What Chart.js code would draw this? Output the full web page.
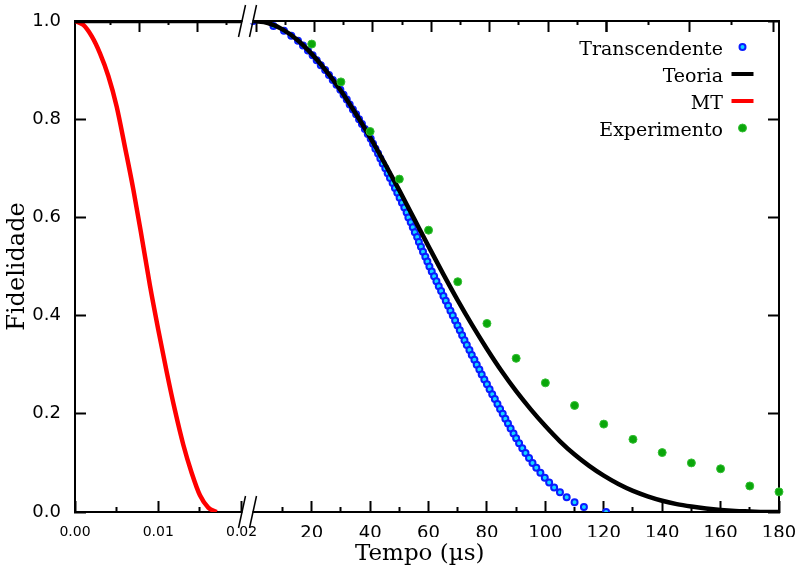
<!DOCTYPE html>
<html>
<head>
<meta charset="utf-8">
<script src="https://cdn.jsdelivr.net/npm/chart.js@4.4.1/dist/chart.umd.min.js"></script>
<style>
  html, body { margin: 0; padding: 0; background: #fff; }
  #wrap { position: relative; width: 803px; height: 571px; }
</style>
</head>
<body>
<div id="wrap"><canvas id="chart"></canvas></div>
<script>
// short time segment (left of the axis break), µs
const mtTime = [0, 0.001, 0.002, 0.003, 0.004, 0.005, 0.006, 0.007, 0.008, 0.009,
  0.010, 0.011, 0.012, 0.013, 0.014, 0.015, 0.016, 0.017]
const mtFid = [1.000, 0.992, 0.969, 0.934, 0.888, 0.826, 0.743, 0.657, 0.561, 0.461,
  0.371, 0.286, 0.207, 0.137, 0.080, 0.034, 0.009, 0.000]
const teoriaShortTime = [0, 0.02]
const teoriaShortFid = [1, 1]

// long time segment (right of the break), µs
const teoriaTime = [0, 5, 10, 15, 20, 25, 30, 35, 40, 45, 50, 55, 60, 65, 70, 75, 80, 85, 90,
  95, 100, 105, 110, 115, 120, 125, 130, 135, 140, 145, 150, 155, 160, 165, 170, 175, 180]
const teoriaFid = [1.000, 0.996, 0.983, 0.962, 0.933, 0.898, 0.858, 0.812, 0.763, 0.710,
  0.655, 0.598, 0.541, 0.485, 0.431, 0.380, 0.332, 0.287, 0.246, 0.209, 0.175, 0.144,
  0.117, 0.094, 0.074, 0.057, 0.043, 0.032, 0.023, 0.016, 0.011, 0.007, 0.004, 0.002,
  0.001, 0.000, 0.000]

const transFid = [1.00, 0.99, 0.98, 0.97, 0.96, 0.95, 0.94, 0.93, 0.92, 0.91,
  0.90, 0.89, 0.88, 0.87, 0.86, 0.85, 0.84, 0.83, 0.82, 0.81,
  0.80, 0.79, 0.78, 0.77, 0.76, 0.75, 0.74, 0.73, 0.72, 0.71,
  0.70, 0.69, 0.68, 0.67, 0.66, 0.65, 0.64, 0.63, 0.62, 0.61,
  0.60, 0.59, 0.58, 0.57, 0.56, 0.55, 0.54, 0.53, 0.52, 0.51,
  0.50, 0.49, 0.48, 0.47, 0.46, 0.45, 0.44, 0.43, 0.42, 0.41,
  0.40, 0.39, 0.38, 0.37, 0.36, 0.35, 0.34, 0.33, 0.32, 0.31,
  0.30, 0.29, 0.28, 0.27, 0.26, 0.25, 0.24, 0.23, 0.22, 0.21,
  0.20, 0.19, 0.18, 0.17, 0.16, 0.15, 0.14, 0.13, 0.12, 0.11,
  0.10, 0.09, 0.08, 0.07, 0.06, 0.05, 0.04, 0.03, 0.02, 0.01, 0.00]
const transTime = [0.0, 6.9, 10.5, 13.0, 15.3, 17.0, 18.7, 20.3, 21.7, 23.1,
  24.6, 25.9, 27.2, 28.5, 29.8, 30.9, 32.0, 33.0, 34.1, 35.2,
  36.2, 37.2, 38.2, 39.2, 40.2, 41.0, 41.8, 42.7, 43.5, 44.3,
  45.2, 46.0, 46.8, 47.7, 48.5, 49.3, 50.1, 50.9, 51.7, 52.5,
  53.1, 53.9, 54.6, 55.3, 56.1, 56.7, 57.4, 58.1, 58.9, 59.6,
  60.3, 61.1, 61.9, 62.7, 63.5, 64.3, 65.1, 65.9, 66.7, 67.5,
  68.3, 69.1, 69.9, 70.7, 71.5, 72.3, 73.1, 74.0, 74.8, 75.7,
  76.5, 77.4, 78.2, 79.1, 80.0, 80.9, 81.8, 82.7, 83.6, 84.5,
  85.4, 86.3, 87.2, 88.1, 89.1, 90.0, 91.0, 92.1, 93.2, 94.4,
  95.6, 96.9, 98.3, 99.8, 101.3, 103.0, 105.0, 107.3, 110.0, 113.2, 120.8]

const expTime = [20, 30, 40, 50, 60, 70, 80, 90, 100, 110, 120, 130, 140, 150, 160, 170, 180]
const expFid = [0.953, 0.876, 0.775, 0.678, 0.574, 0.469, 0.384, 0.313, 0.263, 0.217,
  0.179, 0.148, 0.121, 0.100, 0.088, 0.053, 0.041]

// tick labels
const shortTicks = [0, 0.01, 0.02]
const shortTickLabels = ['0.00', '0.01', '0.02']
const longTicks = [20, 40, 60, 80, 100, 120, 140, 160, 180]
const fidTicks = [0, 0.2, 0.4, 0.6, 0.8, 1.0]

const pts = (xs, ys) => xs.map((x, i) => ({x: x, y: ys[i]}))

Chart.defaults.font.family = 'DejaVu Sans'
Chart.defaults.color = '#000'

const isMajorShort = v => shortTicks.some(t => Math.abs(t - v) < 1e-9)
const isMajorLong = v => longTicks.includes(Math.round(v))

// inward tick marks: bottom ticks run from the axis inward, top ticks from inside to the axis
const tickGrid = (major, top) => ({
  drawOnChartArea: false,
  tickLength: -11,
  tickWidth: 2,
  color: '#000',
  tickColor: '#000',
  tickBorderDash: c => (c.tick && !major(c.tick.value)) ? (top ? [0, 7, 5, 40] : [6, 40]) : []
})
const border = {display: true, color: '#000', width: 2}

// fixed axis sizes; label overhang must not push the plot area around
const fixSize = (w, h) => s => {
  if (w !== null) s.width = w
  if (h !== null) s.height = h
  s.paddingLeft = 0
  s.paddingRight = 0
  s.paddingTop = 0
  s.paddingBottom = 0
}

const axisBreak = {
  id: 'axisBreak',
  afterDraw(chart) {
    const ctx = chart.ctx
    const area = chart.chartArea
    const bx = chart.scales.xl.right
    const offsets = [-5.5, 5.5]
    const rows = [area.top, area.bottom]
    ctx.save()
    ctx.fillStyle = '#fff'
    rows.forEach(y => ctx.fillRect(bx - 5, y - 2.5, 10, 5))
    ctx.strokeStyle = '#000'
    ctx.lineWidth = 1.5
    offsets.forEach(dx => {
      rows.forEach(y => {
        ctx.beginPath()
        ctx.moveTo(bx + dx - 3.5, y + 16)
        ctx.lineTo(bx + dx + 3.5, y - 16)
        ctx.stroke()
      })
    })
    ctx.restore()
  }
}

const legendBox = {
  id: 'legendBox',
  afterDraw(chart) {
    const ctx = chart.ctx
    const area = chart.chartArea
    const items = chart.data.datasets.filter(d => d.label)
    ctx.save()
    ctx.font = '19px "DejaVu Serif"'
    ctx.textAlign = 'right'
    ctx.textBaseline = 'alphabetic'
    items.forEach((d, i) => {
      const y = area.top + 26 + i * 27
      const sx = area.right - 36.5
      ctx.fillStyle = '#000'
      ctx.fillText(d.label, area.right - 56, y + 8)
      if (d.showLine) {
        ctx.strokeStyle = d.borderColor
        ctx.lineWidth = 4
        ctx.beginPath()
        ctx.moveTo(sx - 11, y)
        ctx.lineTo(sx + 11, y)
        ctx.stroke()
      } else {
        ctx.beginPath()
        ctx.arc(sx, y, d.pointRadius, 0, Math.PI * 2)
        ctx.fillStyle = d.pointBackgroundColor
        ctx.fill()
        ctx.lineWidth = d.pointBorderWidth
        ctx.strokeStyle = d.pointBorderColor
        ctx.stroke()
      }
    })
    ctx.restore()
  }
}

const config = {
  type: 'scatter',
  data: {
    datasets: [
      {
        label: 'Transcendente',
        data: pts(transTime, transFid),
        xAxisID: 'xr', yAxisID: 'y',
        showLine: false,
        pointRadius: 3,
        pointBorderWidth: 2,
        pointBorderColor: '#0a1cff',
        pointBackgroundColor: '#14d4ff',
        order: 3
      },
      {
        label: 'Teoria',
        data: pts(teoriaTime, teoriaFid),
        xAxisID: 'xr', yAxisID: 'y',
        showLine: true,
        borderColor: '#000',
        borderWidth: 4.5,
        pointRadius: 0,
        cubicInterpolationMode: 'monotone',
        order: 1
      },
      {
        label: 'MT',
        data: pts(mtTime, mtFid),
        xAxisID: 'xl', yAxisID: 'y',
        showLine: true,
        borderColor: '#ff0000',
        borderWidth: 4.5,
        pointRadius: 0,
        cubicInterpolationMode: 'monotone',
        order: 2
      },
      {
        label: 'Experimento',
        data: pts(expTime, expFid),
        xAxisID: 'xr', yAxisID: 'y',
        showLine: false,
        pointRadius: 4,
        pointBorderWidth: 1,
        pointBorderColor: '#34bf34',
        pointBackgroundColor: '#0aa60a',
        clip: false,
        order: 0
      },
      {
        label: '',
        data: pts(teoriaShortTime, teoriaShortFid),
        xAxisID: 'xl', yAxisID: 'y',
        showLine: true,
        borderColor: '#000',
        borderWidth: 4.5,
        pointRadius: 0,
        order: 1
      }
    ]
  },
  options: {
    responsive: true,
    maintainAspectRatio: false,
    animation: false,
    layout: {padding: {left: 0, top: 21, right: 24, bottom: 0}},
    plugins: {legend: {display: false}, tooltip: {enabled: false}},
    scales: {
      xl: {
        type: 'linear', position: 'bottom', stack: 'bottom', stackWeight: 172.5,
        min: 0, max: 0.020708,
        afterFit: fixSize(null, 25),
        ticks: {
          stepSize: 0.005, includeBounds: false, autoSkip: false, maxRotation: 0,
          padding: 22.6, font: {size: 14},
          callback: v => {
            const i = shortTicks.findIndex(t => Math.abs(t - v) < 1e-9)
            return i >= 0 ? shortTickLabels[i] : ''
          }
        },
        grid: tickGrid(isMajorShort, false),
        border: border
      },
      xr: {
        type: 'linear', position: 'bottom', stack: 'bottom', stackWeight: 531.5,
        min: -1.99, max: 180,
        afterFit: fixSize(null, 25),
        afterBuildTicks: s => { s.ticks = s.ticks.filter(t => t.value > 0) },
        ticks: {
          stepSize: 10, includeBounds: false, autoSkip: false, maxRotation: 0,
          padding: 21.2, font: {size: 18},
          callback: v => isMajorLong(v) ? String(Math.round(v)) : ''
        },
        grid: tickGrid(isMajorLong, false),
        border: border
      },
      xlTop: {
        type: 'linear', position: 'top', stack: 'top', stackWeight: 172.5,
        min: 0, max: 0.020708,
        afterFit: fixSize(null, 0),
        ticks: {stepSize: 0.005, includeBounds: false, display: false},
        grid: tickGrid(isMajorShort, true),
        border: border
      },
      xrTop: {
        type: 'linear', position: 'top', stack: 'top', stackWeight: 531.5,
        min: -1.99, max: 180,
        afterFit: fixSize(null, 0),
        afterBuildTicks: s => { s.ticks = s.ticks.filter(t => t.value > 0) },
        ticks: {stepSize: 10, includeBounds: false, display: false},
        grid: tickGrid(isMajorLong, true),
        border: border
      },
      xt: {
        type: 'linear', position: 'bottom', weight: 10,
        min: 0, max: 1,
        afterFit: fixSize(null, 34),
        ticks: {display: false},
        grid: {display: false},
        border: {display: false},
        title: {
          display: true, text: 'Tempo (µs)  ', color: '#000',
          font: {family: 'DejaVu Serif', size: 23}, padding: {top: 4, bottom: 3}
        }
      },
      y: {
        type: 'linear', position: 'left',
        min: 0, max: 1,
        afterFit: fixSize(75, null),
        afterBuildTicks: s => { s.ticks = fidTicks.map(v => ({value: v})) },
        ticks: {padding: 25, font: {size: 18}, callback: v => v.toFixed(1)},
        grid: tickGrid(() => true, false),
        border: border,
        title: {
          display: true, text: 'Fidelidade', color: '#000',
          font: {family: 'DejaVu Serif', size: 24}, padding: {top: 3, bottom: 0}
        }
      },
      y2: {
        type: 'linear', position: 'right',
        min: 0, max: 1,
        afterFit: fixSize(0, null),
        afterBuildTicks: s => { s.ticks = fidTicks.map(v => ({value: v})) },
        ticks: {display: false},
        grid: tickGrid(() => true, false),
        border: border
      }
    }
  },
  plugins: [axisBreak, legendBox]
}

new Chart(document.getElementById('chart'), config)
</script>
</body>
</html>
